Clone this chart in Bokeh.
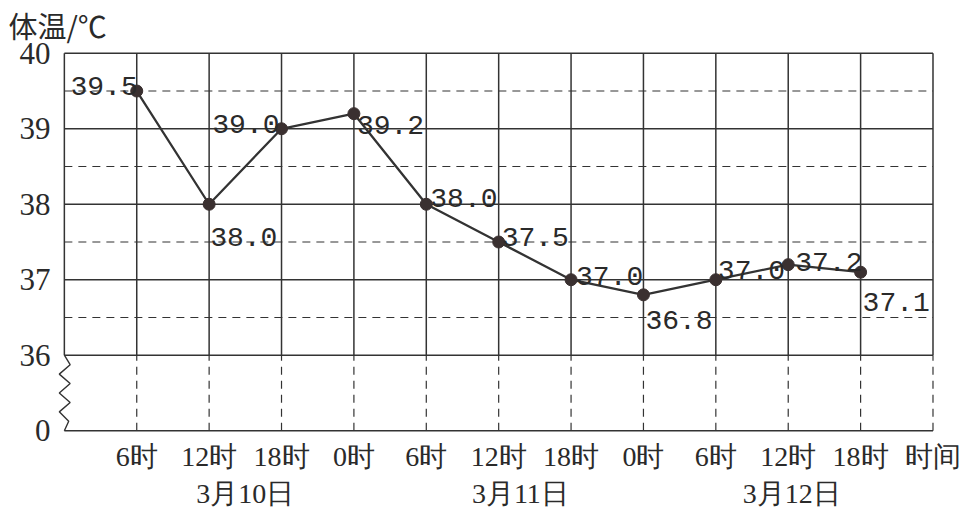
from bokeh.plotting import figure
from bokeh.models import Range1d, FixedTicker, LinearAxis, ColumnDataSource
from bokeh.core.properties import value, field
from bokeh.embed import file_html
from bokeh.resources import INLINE

# ---- data ----
hours = ["6时", "12时", "18时", "0时", "6时", "12时", "18时", "0时", "6时", "12时", "18时"]
temps = [39.5, 38.0, 39.0, 39.2, 38.0, 37.5, 37.0, 36.8, 37.0, 37.2, 37.1]
dates = ["3月10日", "3月11日", "3月12日"]
date_x = [2.5, 6.3, 10.05]
y_ticks = [35, 36, 37, 38, 39, 40]
y_tick_text = ["0", "36", "37", "38", "39", "40"]
x_title = "时间"
y_title = "体温/℃"

# where each value label sits relative to its point (align, dx px, dy px)
label_align = ["right", "left", "right", "left", "left", "left", "left", "left", "left", "left", "left"]
label_dx = [1, 1, -2, 3, 4, 3, 5, 2, 2, 7, 2]
label_dy = [-5, 33, -5, 11, -6, -5, -4, 25, -10, -3, 30]

INK = "#333333"
TEXT = "#2a2a2a"
NUM_FONT = "Times New Roman"

x = list(range(1, len(temps) + 1))
ncols = len(hours) + 1

p = figure(width=960, height=511, output_backend="svg", toolbar_location=None,
           x_range=Range1d(-0.15, ncols + 0.38), y_range=Range1d(34.95, 40.05),
           min_border_left=53, min_border_right=0, min_border_top=49, min_border_bottom=72,
           title=y_title)
p.outline_line_color = None
p.xgrid.visible = False
p.ygrid.visible = False
p.background_fill_color = "white"

p.title.align = "left"
p.title.vertical_align = "top"
p.title.offset = -45
p.title.standoff = 4
p.title.text_font = "Noto Sans CJK SC"
p.title.text_font_style = "normal"
p.title.text_font_size = "29px"
p.title.text_color = TEXT

# ---- grid ----
top, brk, bottom = y_ticks[-1], y_ticks[1], y_ticks[0]
# solid horizontal lines (whole degrees + bottom line)
for yv in y_ticks:
    p.line([0, ncols], [yv, yv], line_color=INK, line_width=1.5)
# dashed half-degree lines
for yv in y_ticks[1:-1]:
    p.line([0, ncols], [yv + 0.5, yv + 0.5], line_color=INK, line_width=1.2, line_dash="8 6")
# vertical lines: solid in upper part, dashed below the axis break
for xv in range(0, ncols + 1):
    p.line([xv, xv], [brk, top], line_color=INK, line_width=1.5)
    if xv > 0:
        p.line([xv, xv], [bottom, brk], line_color=INK, line_width=1.2, line_dash="8 6")
# axis-break zigzag on the left edge
zz_y = [brk - i * (brk - bottom) / 8 for i in range(9)]
zz_x = [0, 0.08, -0.07, 0.08, -0.07, 0.08, -0.07, 0.06, 0]
p.line(zz_x, zz_y, line_color=INK, line_width=1.4)

# ---- data line ----
p.line(x, temps, line_color=INK, line_width=2.3)
p.scatter(x, temps, size=12, fill_color="#3a3030", line_color="#3a3030")

src = ColumnDataSource(dict(x=x, y=temps, t=[f"{v:.1f}" for v in temps],
                            align=label_align, dx=label_dx, dy=label_dy))
p.text("x", "y", text="t", source=src, x_offset="dx", y_offset="dy",
       text_align=field("align"), text_baseline="alphabetic",
       text_font=value("Liberation Mono"), text_font_size="28px", text_color=TEXT)

# ---- axes ----
hour_ticks = x + [ncols + 0.03]
p.xaxis.ticker = FixedTicker(ticks=hour_ticks)
p.xaxis.major_label_overrides = {xi: h for xi, h in zip(hour_ticks, hours + [x_title])}
p.xaxis.major_label_standoff = 6
p.yaxis.ticker = FixedTicker(ticks=y_ticks)
p.yaxis.major_label_overrides = {t: s for t, s in zip(y_ticks, y_tick_text)}
p.yaxis.major_label_standoff = 3

date_axis = LinearAxis(ticker=FixedTicker(ticks=date_x),
                       major_label_overrides={d: s for d, s in zip(date_x, dates)},
                       major_label_standoff=3)
p.add_layout(date_axis, "below")

for ax in (p.xaxis[0], date_axis, p.yaxis[0]):
    ax.axis_line_color = None
    ax.major_tick_line_color = None
    ax.minor_tick_line_color = None
    ax.major_tick_out = 0
    ax.major_tick_in = 0
    ax.major_label_text_font = NUM_FONT
    ax.major_label_text_color = TEXT
p.xaxis.major_label_text_font_size = "28px"
p.yaxis.major_label_text_font_size = "31px"

open("out.html", "w").write(file_html(p, INLINE))
